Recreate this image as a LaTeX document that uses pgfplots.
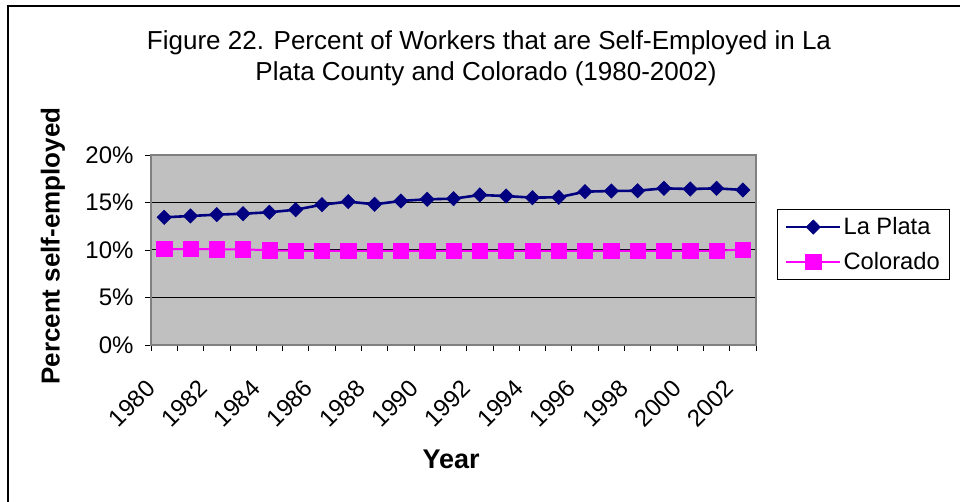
\documentclass[border=0pt]{standalone}
\usepackage{fontspec}
\setmainfont{Liberation Sans}
\usepackage{pgfplots}
\pgfplotsset{compat=1.18}
\definecolor{navyc}{RGB}{0,0,128}
\definecolor{pinkc}{RGB}{255,0,255}
\definecolor{plotgray}{RGB}{192,192,192}
\definecolor{bordergray}{RGB}{128,128,128}
\begin{document}
\begin{tikzpicture}[x=1pt,y=1pt]
\useasboundingbox (0,0) rectangle (960,502);
\fill[white] (0,0) rectangle (960,502);
\draw[line width=1.5pt] (8,0) -- (8,496) -- (960,496);
\node[anchor=base, font=\fontsize{26}{31}\selectfont] at (489,452) {Figure 22. Percent of Workers that are Self-Employed in La};
\node[anchor=base, font=\fontsize{26}{31}\selectfont] at (486,421) {Plata County and Colorado (1980-2002)};
\begin{axis}[
  at={(151pt,157pt)}, anchor=south west,
  scale only axis, width=605pt, height=190pt,
  xmin=-0.5, xmax=22.5, ymin=0, ymax=20,
  axis background/.style={fill=plotgray},
  axis line style={draw=bordergray, line width=1.2pt},
  tick pos=left,
  ytick={0,5,10,15,20},
  yticklabels={0\%,5\%,10\%,15\%,20\%},
  xtick={0,2,...,22},
  xticklabels={1980,1982,1984,1986,1988,1990,1992,1994,1996,1998,2000,2002},
  minor xtick={-0.5,0.5,...,22.5},
  tick align=outside,
  major x tick style={draw=none},
  minor tick length=6pt,
  major tick length=6pt,
  tick style={black, line width=0.8pt},
  ymajorgrids,
  major grid style={black, line width=1pt},
  yticklabel style={font=\fontsize{24}{28}\selectfont, anchor=east, xshift=-8pt},
  xticklabel style={font=\fontsize{24}{28}\selectfont, xshift=-11pt, yshift=-31pt, rotate=45, anchor=east},
  xlabel={Year}, ylabel={Percent self-employed},
  xlabel style={font=\fontsize{27}{32}\bfseries, at={(axis description cs:0.496,-0.603)}, anchor=center},
  ylabel style={font=\fontsize{26}{31}\bfseries, at={(axis description cs:-0.162,0.521)}, anchor=center},
  legend style={at={(axis description cs:1.034,0.714)}, anchor=north west,
    draw=black, line width=0.8pt, font=\fontsize{23.7}{28}\selectfont,
    inner xsep=8pt, inner ysep=6pt, row sep=12pt,
    /tikz/every even column/.append style={column sep=7pt}},
  legend cell align=left,
  legend image code/.code={\draw[mark repeat=2,mark phase=2] plot coordinates {(0pt,0pt) (27pt,0pt) (54pt,0pt)};},
  clip=false,
]
\addplot[navyc, line width=2.6pt, mark=diamond*, mark size=7.2pt, mark options={xscale=1.33, line width=0.5pt, fill=navyc}]
 coordinates {(0,13.44) (1,13.58) (2,13.72) (3,13.82) (4,13.97) (5,14.24) (6,14.77) (7,15.09) (8,14.81) (9,15.16) (10,15.34) (11,15.40) (12,15.79) (13,15.68) (14,15.51) (15,15.55) (16,16.14) (17,16.21) (18,16.24) (19,16.49) (20,16.42) (21,16.49) (22,16.32)};
\addlegendentry{La Plata}
\addplot[pinkc, line width=2pt, mark=square*, mark size=7.6pt, mark options={line width=0.5pt, fill=pinkc}]
 coordinates {(0,10.10) (1,10.10) (2,10.07) (3,10.07) (4,9.97) (5,9.90) (6,9.90) (7,9.90) (8,9.90) (9,9.90) (10,9.90) (11,9.90) (12,9.90) (13,9.90) (14,9.90) (15,9.90) (16,9.90) (17,9.90) (18,9.90) (19,9.90) (20,9.90) (21,9.92) (22,10.05)};
\addlegendentry{Colorado}
\end{axis}
\end{tikzpicture}
\end{document}
